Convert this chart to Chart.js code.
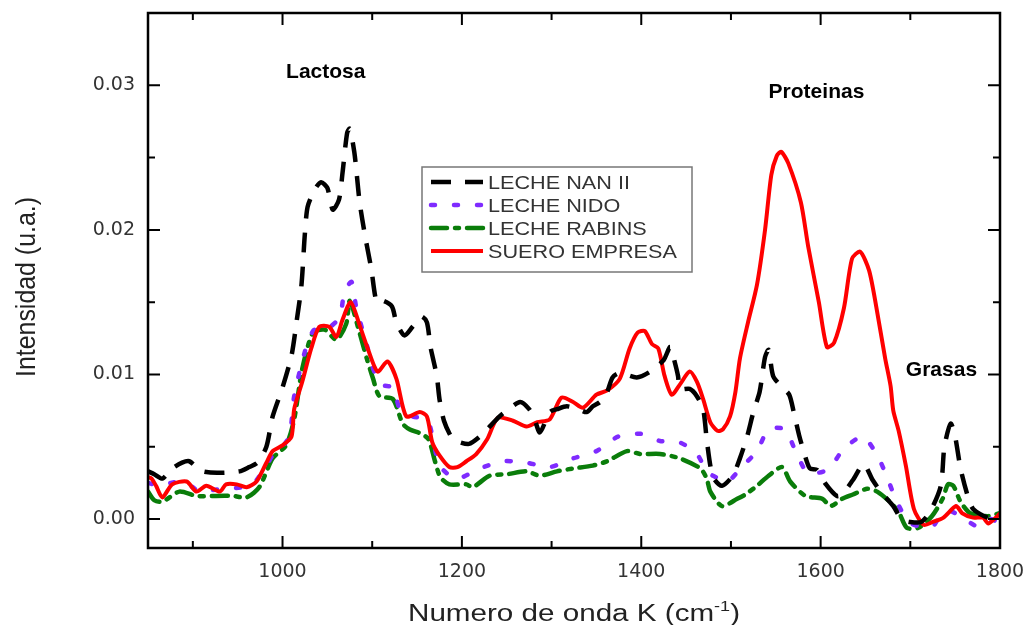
<!DOCTYPE html>
<html lang="es">
<head>
<meta charset="utf-8">
<title>Espectros de leche y suero</title>
<script src="https://cdn.jsdelivr.net/npm/chart.js@4.4.1/dist/chart.umd.min.js"></script>
<style>
  html, body { margin: 0; padding: 0; background: #fff; }
  canvas { display: block; }
</style>
</head>
<body>
<canvas id="espectro" width="1029" height="625"></canvas>
<script>
// Datos: numero de onda (cm-1) e intensidad (u.a.)
const nanX = [850, 857, 866, 877, 888, 896, 904, 911, 927, 952, 963, 972, 982, 989, 1000, 1010, 1016, 1021, 1025, 1028, 1036, 1043, 1050, 1056, 1063, 1067, 1072, 1075, 1080, 1083, 1086, 1092, 1099, 1105, 1112, 1122, 1127, 1136, 1145, 1155, 1161, 1165, 1172, 1175, 1180, 1188, 1194, 1208, 1220, 1228, 1242, 1250, 1265, 1275, 1281, 1287, 1298, 1306, 1317, 1330, 1339, 1346, 1354, 1362, 1368, 1376, 1395, 1410, 1425, 1432, 1435, 1441, 1443, 1454, 1462, 1469, 1473, 1477, 1481, 1490, 1502, 1510, 1518, 1525, 1532, 1538, 1542, 1547, 1556, 1565, 1570, 1576, 1582, 1588, 1596, 1606, 1618, 1624, 1636, 1648, 1658, 1667, 1681, 1690, 1700, 1712, 1722, 1734, 1738, 1745, 1750, 1756, 1764, 1770, 1786, 1800];
const nanY = [0.0033, 0.0031, 0.0028, 0.0035, 0.0039, 0.0040, 0.0036, 0.0033, 0.0032, 0.0033, 0.0036, 0.0039, 0.0050, 0.0071, 0.0091, 0.0113, 0.0138, 0.0161, 0.0198, 0.0216, 0.0228, 0.0233, 0.0229, 0.0214, 0.0221, 0.0240, 0.0267, 0.0270, 0.0254, 0.0237, 0.0219, 0.0196, 0.0173, 0.0150, 0.0151, 0.0147, 0.0136, 0.0127, 0.0133, 0.0140, 0.0136, 0.0119, 0.0099, 0.0083, 0.0068, 0.0057, 0.0054, 0.0052, 0.0057, 0.0062, 0.0071, 0.0075, 0.0081, 0.0076, 0.0069, 0.0060, 0.0074, 0.0076, 0.0078, 0.0076, 0.0074, 0.0078, 0.0081, 0.0088, 0.0098, 0.0101, 0.0098, 0.0102, 0.0110, 0.0119, 0.0114, 0.0099, 0.0090, 0.0090, 0.0085, 0.0076, 0.0055, 0.0037, 0.0028, 0.0023, 0.0030, 0.0042, 0.0057, 0.0074, 0.0088, 0.0112, 0.0117, 0.0099, 0.0092, 0.0086, 0.0074, 0.0058, 0.0045, 0.0035, 0.0034, 0.0024, 0.0016, 0.0017, 0.0027, 0.0038, 0.0027, 0.0019, 0.0009, 0.0000, -0.0002, -0.0002, 0.0005, 0.0023, 0.0050, 0.0066, 0.0057, 0.0035, 0.0016, 0.0007, 0.0001, 0.0000];

const nidoX = [850, 856, 863, 875, 888, 900, 907, 920, 935, 955, 968, 980, 990, 1000, 1008, 1013, 1025, 1034, 1044, 1053, 1064, 1069, 1077, 1082, 1095, 1101, 1110, 1123, 1131, 1145, 1161, 1168, 1175, 1194, 1220, 1246, 1272, 1298, 1324, 1350, 1374, 1399, 1421, 1443, 1462, 1473, 1480, 1496, 1512, 1529, 1542, 1560, 1572, 1584, 1597, 1610, 1625, 1647, 1664, 1674, 1685, 1698, 1710, 1725, 1733, 1742, 1756, 1775, 1789, 1800];
const nidoY = [0.0025, 0.0024, 0.0023, 0.0025, 0.0026, 0.0022, 0.0019, 0.0020, 0.0021, 0.0022, 0.0025, 0.0035, 0.0045, 0.0050, 0.0058, 0.0085, 0.0116, 0.0130, 0.0133, 0.0133, 0.0140, 0.0157, 0.0164, 0.0147, 0.0118, 0.0104, 0.0093, 0.0091, 0.0076, 0.0071, 0.0069, 0.0055, 0.0037, 0.0028, 0.0035, 0.0040, 0.0039, 0.0036, 0.0042, 0.0047, 0.0057, 0.0059, 0.0054, 0.0053, 0.0045, 0.0033, 0.0030, 0.0026, 0.0036, 0.0047, 0.0062, 0.0062, 0.0047, 0.0033, 0.0032, 0.0035, 0.0048, 0.0057, 0.0043, 0.0029, 0.0012, -0.0002, -0.0005, -0.0005, 0.0002, 0.0006, 0.0002, -0.0005, 0.0000, -0.0003];

const rabinsX = [850, 857, 866, 885, 904, 926, 945, 960, 974, 989, 1004, 1013, 1022, 1034, 1047, 1060, 1071, 1075, 1084, 1094, 1101, 1108, 1123, 1134, 1142, 1155, 1163, 1170, 1176, 1186, 1205, 1212, 1231, 1250, 1272, 1287, 1306, 1324, 1346, 1362, 1384, 1399, 1421, 1443, 1466, 1473, 1477, 1490, 1507, 1516, 1529, 1542, 1557, 1566, 1583, 1602, 1611, 1624, 1636, 1652, 1663, 1677, 1687, 1696, 1709, 1724, 1736, 1742, 1748, 1756, 1767, 1786, 1800];
const rabinsY = [0.0019, 0.0013, 0.0012, 0.0019, 0.0016, 0.0016, 0.0016, 0.0015, 0.0022, 0.0042, 0.0051, 0.0069, 0.0104, 0.0129, 0.0131, 0.0124, 0.0135, 0.0151, 0.0133, 0.0111, 0.0097, 0.0085, 0.0083, 0.0066, 0.0062, 0.0059, 0.0055, 0.0040, 0.0029, 0.0024, 0.0024, 0.0022, 0.0030, 0.0031, 0.0033, 0.0030, 0.0033, 0.0035, 0.0037, 0.0040, 0.0047, 0.0045, 0.0045, 0.0042, 0.0035, 0.0028, 0.0019, 0.0009, 0.0014, 0.0017, 0.0023, 0.0030, 0.0036, 0.0026, 0.0016, 0.0014, 0.0009, 0.0014, 0.0017, 0.0021, 0.0019, 0.0012, 0.0005, -0.0006, -0.0006, 0.0002, 0.0014, 0.0024, 0.0023, 0.0012, 0.0004, 0.0002, 0.0004];

const sueroX = [850, 854, 859, 866, 877, 893, 904, 915, 930, 937, 949, 960, 971, 982, 989, 1000, 1010, 1013, 1022, 1032, 1041, 1052, 1060, 1067, 1076, 1086, 1095, 1106, 1117, 1127, 1138, 1153, 1161, 1167, 1175, 1186, 1195, 1205, 1216, 1228, 1240, 1257, 1272, 1284, 1298, 1311, 1324, 1335, 1350, 1362, 1376, 1387, 1396, 1404, 1412, 1419, 1426, 1434, 1443, 1454, 1462, 1469, 1477, 1485, 1491, 1499, 1505, 1510, 1519, 1529, 1538, 1545, 1551, 1556, 1564, 1578, 1586, 1598, 1607, 1615, 1626, 1635, 1644, 1654, 1662, 1672, 1678, 1681, 1687, 1695, 1704, 1715, 1725, 1737, 1751, 1758, 1770, 1781, 1787, 1797, 1800];
const sueroY = [0.0029, 0.0028, 0.0023, 0.0015, 0.0024, 0.0026, 0.0019, 0.0023, 0.0019, 0.0024, 0.0024, 0.0022, 0.0026, 0.0039, 0.0047, 0.0051, 0.0057, 0.0076, 0.0095, 0.0118, 0.0133, 0.0133, 0.0126, 0.0138, 0.0150, 0.0134, 0.0118, 0.0102, 0.0109, 0.0097, 0.0071, 0.0074, 0.0071, 0.0053, 0.0044, 0.0036, 0.0036, 0.0040, 0.0045, 0.0055, 0.0070, 0.0068, 0.0064, 0.0067, 0.0069, 0.0084, 0.0081, 0.0077, 0.0086, 0.0089, 0.0097, 0.0118, 0.0129, 0.0130, 0.0121, 0.0118, 0.0099, 0.0086, 0.0093, 0.0102, 0.0095, 0.0083, 0.0067, 0.0061, 0.0062, 0.0071, 0.0088, 0.0111, 0.0136, 0.0162, 0.0200, 0.0238, 0.0251, 0.0254, 0.0246, 0.0219, 0.0189, 0.0150, 0.0119, 0.0122, 0.0146, 0.0180, 0.0185, 0.0172, 0.0147, 0.0111, 0.0092, 0.0075, 0.0061, 0.0037, 0.0007, -0.0004, -0.0002, 0.0001, 0.0009, 0.0004, 0.0001, 0.0001, -0.0003, 0.0002, 0.0004];

const seriesLabels = ["LECHE NAN II", "LECHE NIDO", "LECHE RABINS", "SUERO EMPRESA"];
const xTicks = [900, 1000, 1100, 1200, 1300, 1400, 1500, 1600, 1700, 1800];
const yTicks = [0, 0.005, 0.01, 0.015, 0.02, 0.025, 0.03];

// Bandas señaladas en la figura (texto y ancla en coordenadas de datos)
const bandas = [
    { texto: "Lactosa", x: 1004, y: 0.0305 },
    { texto: "Proteinas", x: 1542, y: 0.0291 },
    { texto: "Grasas", x: 1695, y: 0.0099 },
];

function puntos(xs, ys) {
    return xs.map((x, i) => ({ x: x, y: ys[i] }));
}

function esMayor(v, paso) {
    return Math.abs(v / paso - Math.round(v / paso)) < 1e-6;
}

// Dibuja varias partes de texto seguidas, estiradas en horizontal por el factor s
function textoEscalado(ctx, partes, x, y, s, alinear) {
    let natural = 0;
    partes.forEach((p) => {
        ctx.font = p.font;
        natural += ctx.measureText(p.t).width;
    });
    const ancho = natural * s;
    ctx.save();
    ctx.textAlign = "left";
    ctx.translate(alinear === "center" ? x - ancho / 2 : x, y);
    ctx.scale(s, 1);
    let cx = 0;
    partes.forEach((p) => {
        ctx.font = p.font;
        ctx.fillText(p.t, cx, p.dy || 0);
        cx += ctx.measureText(p.t).width;
    });
    ctx.restore();
}

// Igual, pero ajustando el conjunto a un ancho dado
function textoAjustado(ctx, partes, x, y, ancho, alinear) {
    let natural = 0;
    partes.forEach((p) => {
        ctx.font = p.font;
        natural += ctx.measureText(p.t).width;
    });
    textoEscalado(ctx, partes, x, y, ancho / natural, alinear);
}

// Sin margen extra para las etiquetas extremas: el marco ocupa su sitio exacto
function sinRelleno(scale) {
    scale.paddingTop = 0;
    scale.paddingBottom = 0;
    scale.paddingLeft = 0;
    scale.paddingRight = 0;
}

const marco = {
    id: "marco",
    afterDraw(chart) {
        const { ctx, chartArea: a, scales } = chart;
        ctx.save();
        ctx.strokeStyle = "#000";
        ctx.lineCap = "butt";
        ctx.setLineDash([]);
        ctx.lineWidth = 2.5;
        ctx.strokeRect(a.left, a.top, a.right - a.left, a.bottom - a.top);

        ctx.lineWidth = 2;
        ctx.beginPath();
        scales.x.ticks.forEach((t) => {
            const px = scales.x.getPixelForValue(t.value);
            const len = t.label ? 12 : 7;
            ctx.moveTo(px, a.bottom);
            ctx.lineTo(px, a.bottom - len);
            ctx.moveTo(px, a.top);
            ctx.lineTo(px, a.top + len);
        });
        scales.y.ticks.forEach((t) => {
            const py = scales.y.getPixelForValue(t.value);
            const len = t.label ? 12 : 7;
            ctx.moveTo(a.left, py);
            ctx.lineTo(a.left + len, py);
            ctx.moveTo(a.right, py);
            ctx.lineTo(a.right - len, py);
        });
        ctx.stroke();

        // titulos de los ejes
        ctx.fillStyle = "#222";
        ctx.textBaseline = "alphabetic";
        textoAjustado(ctx, [
            { t: "Numero de onda K (cm", font: "23px 'Liberation Sans', Arial, sans-serif" },
            { t: "-1", font: "14px 'Liberation Sans', Arial, sans-serif", dy: -10 },
            { t: ")", font: "23px 'Liberation Sans', Arial, sans-serif" },
        ], 574, 621, 332, "center");

        ctx.save();
        ctx.translate(35, 287);
        ctx.rotate(-Math.PI / 2);
        textoAjustado(ctx, [
            { t: "Intensidad (u.a.)", font: "28px 'Liberation Sans', Arial, sans-serif" },
        ], 0, 0, 180, "center");
        ctx.restore();

        // nombres de las bandas
        ctx.fillStyle = "#000";
        ctx.font = "bold 21px 'Liberation Sans', Arial, sans-serif";
        ctx.textAlign = "left";
        bandas.forEach((b) => {
            ctx.fillText(b.texto, scales.x.getPixelForValue(b.x), scales.y.getPixelForValue(b.y));
        });

        // leyenda dentro del area del grafico
        const lx = 422, ly = 167;
        ctx.fillStyle = "#fff";
        ctx.fillRect(lx, ly, 270, 105);
        ctx.strokeStyle = "#777";
        ctx.lineWidth = 1.5;
        ctx.strokeRect(lx, ly, 270, 105);
        chart.data.datasets.forEach((ds, i) => {
            const y = ly + 15 + i * 23;
            ctx.save();
            ctx.strokeStyle = ds.borderColor;
            ctx.lineWidth = ds.borderWidth;
            ctx.lineCap = ds.borderCapStyle || "butt";
            ctx.setLineDash(ds.borderDash || []);
            ctx.beginPath();
            ctx.moveTo(lx + 9, y);
            ctx.lineTo(lx + 61, y);
            ctx.stroke();
            ctx.restore();
            ctx.fillStyle = "#333";
            textoEscalado(ctx, [
                { t: ds.label, font: "18.5px 'Liberation Sans', Arial, sans-serif" },
            ], lx + 66, y + 7, 1.17, "left");
        });
        ctx.restore();
    },
};

const chart = new Chart(document.getElementById("espectro"), {
    type: "line",
    data: {
        datasets: [
            {
                label: seriesLabels[0],
                data: puntos(nanX, nanY),
                borderColor: "#000000",
                borderWidth: 4.5,
                borderDash: [20, 14],
                order: 0,
            },
            {
                label: seriesLabels[1],
                data: puntos(nidoX, nidoY),
                borderColor: "#7f2bff",
                borderWidth: 4.5,
                borderDash: [4, 19],
                borderCapStyle: "round",
                order: 2,
            },
            {
                label: seriesLabels[2],
                data: puntos(rabinsX, rabinsY),
                borderColor: "#0a7d0a",
                borderWidth: 4.5,
                borderDash: [16, 8, 4, 8],
                borderCapStyle: "round",
                order: 3,
            },
            {
                label: seriesLabels[3],
                data: puntos(sueroX, sueroY),
                borderColor: "#ff0000",
                borderWidth: 4,
                order: 1,
            },
        ],
    },
    options: {
        responsive: false,
        animation: false,
        elements: {
            point: { radius: 0 },
            line: { tension: 0.25, borderJoinStyle: "round" },
        },
        layout: { padding: { left: 0, top: 13, right: 29, bottom: 0 } },
        plugins: {
            legend: { display: false },
            tooltip: { enabled: false },
        },
        scales: {
            x: {
                type: "linear",
                min: 850,
                max: 1800,
                grid: { display: false, drawTicks: false },
                border: { display: false },
                afterBuildTicks: (scale) => {
                    scale.ticks = xTicks.map((v) => ({ value: v }));
                },
                afterFit: (scale) => {
                    scale.height = 77;
                    sinRelleno(scale);
                },
                ticks: {
                    padding: 13,
                    color: "#333",
                    font: { family: "'DejaVu Sans', sans-serif", size: 19 },
                    maxRotation: 0,
                    autoSkip: false,
                    callback: (v) => (esMayor(v, 200) ? String(v) : ""),
                },
            },
            y: {
                type: "linear",
                min: -0.002,
                max: 0.035,
                grid: { display: false, drawTicks: false },
                border: { display: false },
                afterBuildTicks: (scale) => {
                    scale.ticks = yTicks.map((v) => ({ value: v }));
                },
                afterFit: (scale) => {
                    scale.width = 148;
                    sinRelleno(scale);
                },
                ticks: {
                    padding: 13,
                    color: "#333",
                    font: { family: "'DejaVu Sans', sans-serif", size: 19 },
                    autoSkip: false,
                    callback: (v) => (esMayor(v, 0.01) ? v.toFixed(2) : ""),
                },
            },
        },
    },
    plugins: [marco],
});
</script>
</body>
</html>
